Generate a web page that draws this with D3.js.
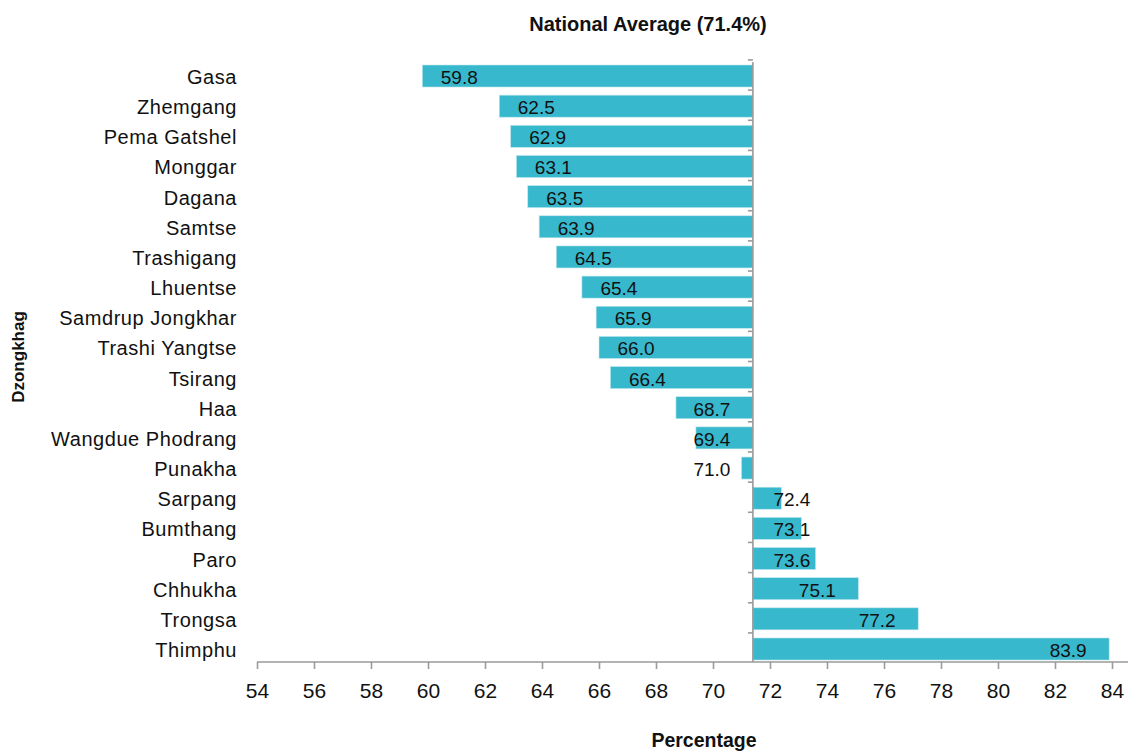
<!DOCTYPE html>
<html>
<head>
<meta charset="utf-8">
<script src="https://cdn.jsdelivr.net/npm/d3@7"></script>
<style>
  html, body { margin: 0; padding: 0; background: #fff; }
  svg { display: block; }
  text { font-family: "Liberation Sans", Arial, sans-serif; fill: #111; }
</style>
</head>
<body>
<svg id="chart" width="1128" height="752"></svg>
<script>
const categories = ["Gasa", "Zhemgang", "Pema Gatshel", "Monggar", "Dagana", "Samtse", "Trashigang", "Lhuentse", "Samdrup Jongkhar", "Trashi Yangtse", "Tsirang", "Haa", "Wangdue Phodrang", "Punakha", "Sarpang", "Bumthang", "Paro", "Chhukha", "Trongsa", "Thimphu"];
const values = [59.8, 62.5, 62.9, 63.1, 63.5, 63.9, 64.5, 65.4, 65.9, 66.0, 66.4, 68.7, 69.4, 71.0, 72.4, 73.1, 73.6, 75.1, 77.2, 83.9];
const nationalAverage = 71.4;
const xTicks = [54, 56, 58, 60, 62, 64, 66, 68, 70, 72, 74, 76, 78, 80, 82, 84];
const titleText = "National Average (71.4%)";
const xTitle = "Percentage";
const yTitle = "Dzongkhag";

const data = categories.map((c, i) => ({ name: c, value: values[i] }));

const svg = d3.select("#chart");
const barColor = "#37b8cc";
const axisColor = "#9a9a9a";

const x = d3.scaleLinear().domain([54, 84]).range([257, 1112]);
const y = d3.scaleBand().domain(categories).range([65, 660]).paddingInner(0.27).paddingOuter(0);
const x0 = x(nationalAverage);
const plotTop = 62, plotBottom = 662;

// bars
svg.append("g").selectAll("rect").data(data).join("rect")
  .attr("x", d => Math.min(x(d.value), x0))
  .attr("y", d => y(d.name))
  .attr("width", d => Math.abs(x(d.value) - x0))
  .attr("height", y.bandwidth())
  .attr("fill", barColor)
  .attr("stroke", "#bfe6ee")
  .attr("stroke-width", 0.6);

// vertical average line with category ticks
const gap = y.step() - y.bandwidth();
svg.append("line")
  .attr("x1", x0).attr("x2", x0)
  .attr("y1", plotTop).attr("y2", plotBottom)
  .attr("stroke", axisColor).attr("stroke-width", 1.6);
svg.append("g").selectAll("line").data(categories).join("line")
  .attr("x1", x0 - 5).attr("x2", x0)
  .attr("y1", d => y(d) - gap / 2 - 1)
  .attr("y2", d => y(d) - gap / 2 - 1)
  .attr("stroke", axisColor).attr("stroke-width", 1.6);

// x axis
const xAxis = svg.append("g")
  .attr("transform", `translate(0,${plotBottom})`)
  .call(d3.axisBottom(x).tickValues(xTicks).tickSize(7).tickSizeOuter(0).tickFormat(d3.format("d")));
xAxis.select(".domain")
  .attr("d", `M${x.range()[0]},0H${x.range()[1] + 16}`)
  .attr("stroke", axisColor).attr("stroke-width", 1.6);
xAxis.selectAll(".tick line").attr("stroke", axisColor).attr("stroke-width", 1.6);
xAxis.selectAll(".tick text")
  .attr("y", 36).attr("dy", null)
  .attr("font-size", 21)
  .style("font-family", "'Liberation Sans', Arial, sans-serif")
  .attr("fill", "#111");

// category labels
svg.append("g").selectAll("text").data(data).join("text")
  .attr("x", 237)
  .attr("y", d => y(d.name) + y.bandwidth() / 2 + 8)
  .attr("text-anchor", "end")
  .attr("font-size", 20)
  .attr("letter-spacing", 0.55)
  .text(d => d.name);

// value labels
svg.append("g").selectAll("text").data(data).join("text")
  .attr("x", d => d.value < nationalAverage
      ? Math.min(x(d.value) + 37, x0 - 41)
      : Math.max(x(d.value) - 41, x0 + 39))
  .attr("y", d => y(d.name) + y.bandwidth() / 2 + 8)
  .attr("text-anchor", "middle")
  .attr("font-size", 19)
  .text(d => d.value.toFixed(1));

// titles
svg.append("text")
  .attr("x", 648).attr("y", 31)
  .attr("text-anchor", "middle")
  .attr("font-size", 20).attr("font-weight", "bold")
  .text(titleText);

svg.append("text")
  .attr("x", 704).attr("y", 747)
  .attr("text-anchor", "middle")
  .attr("font-size", 19.5).attr("font-weight", "bold")
  .text(xTitle);

svg.append("text")
  .attr("transform", "translate(24,357) rotate(-90)")
  .attr("text-anchor", "middle")
  .attr("font-size", 17).attr("font-weight", "bold")
  .text(yTitle);
</script>
</body>
</html>
